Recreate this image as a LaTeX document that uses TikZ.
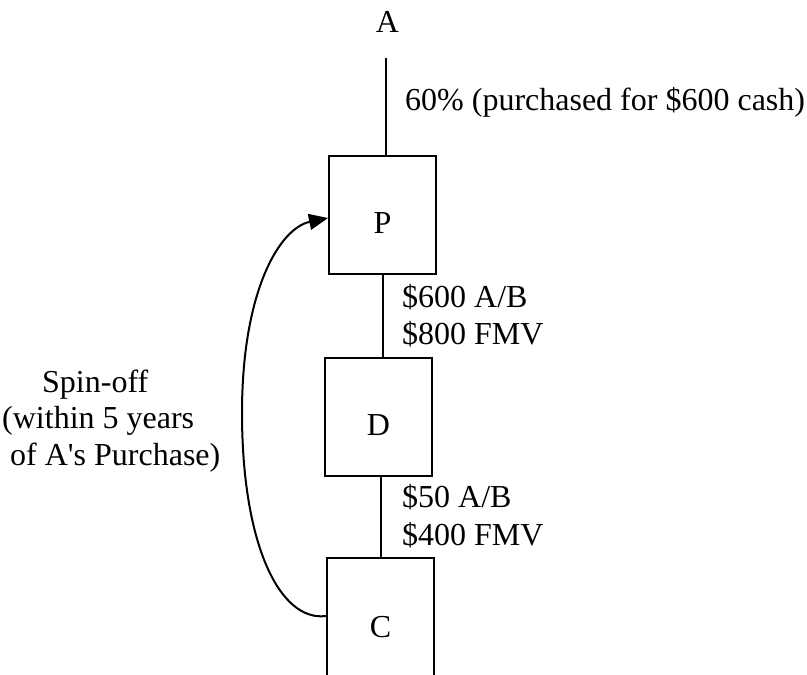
\documentclass[tikz,border=0pt]{standalone}
\usepackage{fontspec}
\setmainfont{Liberation Serif}
\usetikzlibrary{arrows.meta}
\begin{document}
\begin{tikzpicture}[x=1pt,y=-1pt,
  every node/.style={font=\fontsize{32}{37}\selectfont, inner sep=0pt},
  entity/.style={draw, line width=2pt, minimum width=107pt, minimum height=118pt, text height=37pt, text depth=0pt},
  link/.style={line width=2pt},
  lbl/.style={anchor=base west}]
\useasboundingbox (0,0) rectangle (807,675);
\node[anchor=base] (A) at (387.5,32) {A};
\node[entity] (P) at (382.5,215) {P};
\node[entity] (D) at (378.5,417) {D};
\node[entity, minimum height=122pt] (C) at (380.5,619) {C};
\coordinate (a1) at (385.5,58);
\draw[link] (a1) -- (a1 |- P.north);
\draw[link] (P.south) -- (P.south |- D.north);
\draw[link] (C.north) -- (C.north |- D.south);
\node[lbl] (l1) at (405,110) {60\% (purchased for \$600 cash)};
\node[lbl] (l2) at (402,307) {\$600 A/B};
\node[lbl] (l3) at (402,344) {\$800 FMV};
\node[lbl] (l4) at (402,507) {\$50 A/B};
\node[lbl] (l5) at (402,545) {\$400 FMV};
\node[lbl] (s1) at (42,392) {Spin-off};
\node[lbl] (s2) at (2,428) {(within 5 years};
\node[lbl] (s3) at (10,465) {of A\textquotesingle s Purchase)};
\draw[link, -{Triangle[length=19pt,width=16pt]}]
  ([yshift=3pt]C.west) .. controls (280,622) and (242,545) .. (242,413)
  .. controls (242,290) and (280,228) .. ([yshift=-3pt]P.west);
\end{tikzpicture}
\end{document}
